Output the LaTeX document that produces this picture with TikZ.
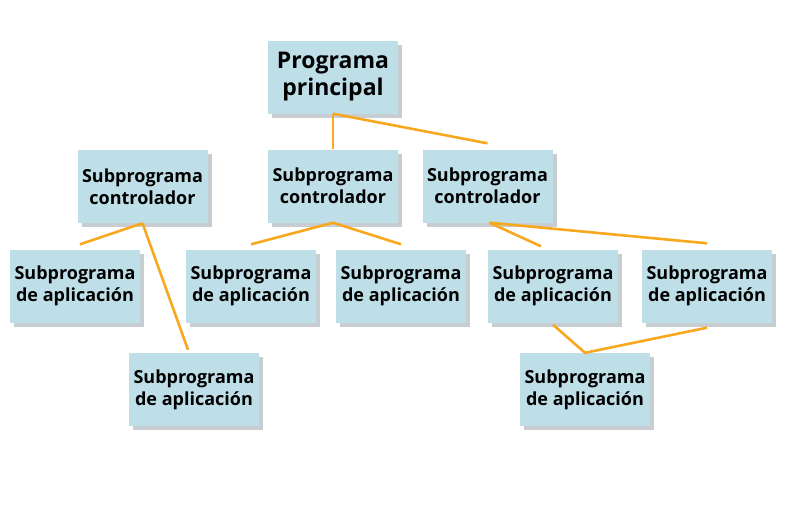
\documentclass[tikz,border=0pt]{standalone}
\usepackage{fontspec}
\setmainfont{Open Sans}
\usetikzlibrary{shadows}
\definecolor{boxblue}{RGB}{190,223,232}
\definecolor{boxshade}{RGB}{200,205,210}
\definecolor{linkorange}{RGB}{247,168,30}
\begin{document}
\begin{tikzpicture}[x=1pt,y=-1pt,
    prog/.style={fill=boxblue, minimum width=130pt, minimum height=73pt, inner sep=0pt, align=center,
        font=\bfseries\fontsize{18}{22}\selectfont,
        drop shadow={shadow xshift=4pt, shadow yshift=-4pt, fill=boxshade, opacity=1}},
    link/.style={draw=linkorange, line width=2.6pt}]
                    \useasboundingbox (0,0) rectangle (785,515);
                    \node[prog, font=\bfseries\fontsize{23}{27}\selectfont] (main) at (333,77) {Programa\\principal};
                    \node[prog] (ctl1) at (142.5,186.5) {Subprograma\\controlador};
                    \node[prog] (ctl2) at (333,186) {Subprograma\\controlador};
                    \node[prog] (ctl3) at (487.5,186) {Subprograma\\controlador};
                    \node[prog] (app1) at (75,286) {Subprograma\\de aplicación};
                    \node[prog] (app2) at (251,286) {Subprograma\\de aplicación};
                    \node[prog] (app3) at (401,286) {Subprograma\\de aplicación};
                    \node[prog] (app4) at (553,286) {Subprograma\\de aplicación};
                    \node[prog] (app5) at (707,286) {Subprograma\\de aplicación};
                    \node[prog] (app6) at (194,389.5) {Subprograma\\de aplicación};
                    \node[prog] (app7) at (585,389.5) {Subprograma\\de aplicación};

                    \draw[link] (main.south) -- (ctl2.north);
                    \draw[link] (main.south) -- ([yshift=6pt]ctl3.north);
                    \draw[link] (ctl1.south) -- ([xshift=5pt,yshift=5pt]app1.north);
                    \draw[link] (ctl1.south) -- ([xshift=-6pt,yshift=3pt]app6.north);
                    \draw[link] (ctl2.south) -- ([yshift=5pt]app2.north);
                    \draw[link] (ctl2.south) -- ([yshift=5pt]app3.north);
                    \draw[link] ([xshift=2pt]ctl3.south) -- ([xshift=-12pt,yshift=3pt]app4.north);
                    \draw[link] ([xshift=2pt]ctl3.south) -- ([yshift=6pt]app5.north);
                    \draw[link] ([yshift=-2pt]app4.south) -- (app7.north) -- ([yshift=-5pt]app5.south);
                \end{tikzpicture}
\end{document}
